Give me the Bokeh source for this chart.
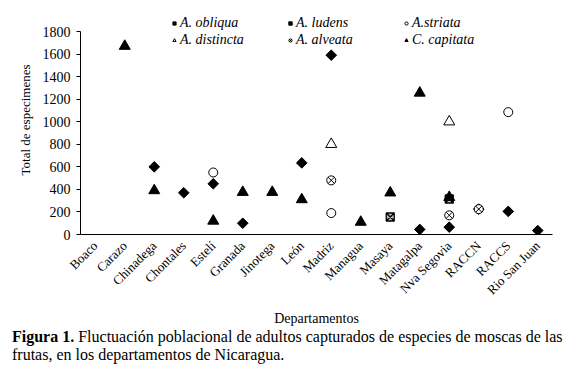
from math import pi
from bokeh.plotting import figure
from bokeh.models import FactorRange, Range1d, Legend, LegendItem, FixedTicker, Div
from bokeh.layouts import column
from bokeh.embed import file_html
from bokeh.resources import INLINE

departamentos = ["Boaco", "Carazo", "Chinadega", "Chontales", "Estelí", "Granada",
                 "Jinotega", "León", "Madriz", "Managua", "Masaya", "Matagalpa",
                 "Nva Segovia", "RACCN", "RACCS", "Rio San Juan"]

obliqua_dept = ["Chinadega", "Chontales", "Estelí", "Granada", "León", "Madriz",
                "Matagalpa", "Nva Segovia", "RACCN", "RACCS", "Rio San Juan"]
obliqua_vals = [600, 370, 450, 100, 635, 1590, 45, 65, 225, 205, 35]

ludens_dept = ["Masaya", "Nva Segovia"]
ludens_vals = [155, 315]

striata_dept = ["Estelí", "Madriz", "RACCS"]
striata_vals = [550, 190, 1085]

distincta_dept = ["Madriz", "Nva Segovia"]
distincta_vals = [800, 1000]

alveata_dept = ["Madriz", "Nva Segovia", "RACCN"]
alveata_vals = [480, 170, 225]

capitata_dept = ["Carazo", "Chinadega", "Estelí", "Granada", "Jinotega", "León",
                 "Managua", "Masaya", "Matagalpa", "Nva Segovia"]
capitata_vals = [1670, 390, 120, 375, 375, 310, 110, 370, 1255, 330]

y_ticks = [0, 200, 400, 600, 800, 1000, 1200, 1400, 1600, 1800]
y_max = 1800

SERIF = "Liberation Serif"

# frame: 203 px for 0..1800, extended 26 px above 1800 for the legend
y_top = y_max * 229 / 203

p = figure(width=563, height=328, output_backend="svg", toolbar_location=None,
           x_range=FactorRange(*departamentos), y_range=Range1d(0, y_top),
           min_border_left=80, min_border_right=11, min_border_top=5,
           min_border_bottom=94)
p.outline_line_color = None
p.xgrid.visible = False
p.ygrid.visible = False

r_obl = p.scatter(obliqua_dept, obliqua_vals, marker="square", angle=pi / 4, size=7.5,
                  fill_color="black", line_color="black")
r_lud = p.scatter(ludens_dept, ludens_vals, marker="square_x", size=8,
                  fill_color="#bbbbbb", line_color="black", line_width=1.3)
r_str = p.scatter(striata_dept, striata_vals, marker="circle", size=9,
                  fill_color="white", line_color="black", line_width=1)
r_dis = p.scatter(distincta_dept, distincta_vals, marker="triangle", size=11,
                  fill_color="white", line_color="black", line_width=1)
r_alv = p.scatter(alveata_dept, alveata_vals, marker="circle_x", size=9,
                  fill_color="white", line_color="black", line_width=1)
r_cap = p.scatter(capitata_dept, capitata_vals, marker="triangle", size=11,
                  fill_color="black", line_color="black")

# axes
p.yaxis.ticker = FixedTicker(ticks=y_ticks)
p.yaxis.bounds = (0, y_max)
for ax in (p.xaxis[0], p.yaxis[0]):
    ax.axis_line_color = "black"
    ax.axis_line_width = 1
    ax.major_label_text_font = SERIF
    ax.major_label_text_color = "black"
    ax.axis_label_text_font = SERIF
    ax.axis_label_text_font_style = "normal"
    ax.axis_label_text_color = "black"
    ax.minor_tick_line_color = None

p.yaxis.major_tick_out = 4
p.yaxis.major_tick_in = 0
p.yaxis.major_tick_line_color = "black"
p.yaxis.major_label_standoff = 6
p.yaxis.major_label_text_font_size = "14px"
p.yaxis.axis_label = "Total de especimenes"
p.yaxis.axis_label_text_font_size = "13px"
p.yaxis.axis_label_standoff = 7

p.xaxis.major_tick_line_color = None
p.xaxis.major_tick_out = 0
p.xaxis.major_tick_in = 0
p.xaxis.major_label_orientation = pi / 4
p.xaxis.major_label_standoff = 9
p.xaxis.major_label_text_font_size = "13px"
p.xaxis.axis_label = "Departamentos"
p.xaxis.axis_label_text_font_size = "14px"
p.xaxis.axis_label_standoff = 5

# legends (two rows of three)
def make_legend(items, vy):
    lg = Legend(items=items, orientation="horizontal", location=(90, vy),
                label_text_font=SERIF, label_text_font_style="italic",
                label_text_font_size="14px", label_text_color="black",
                glyph_width=8, glyph_height=12, label_standoff=2, label_width=100,
                label_height=12, spacing=6, padding=0, margin=0,
                border_line_color=None, background_fill_alpha=0)
    p.add_layout(lg, "center")

make_legend([LegendItem(label="A. obliqua", renderers=[r_obl]),
             LegendItem(label="A. ludens", renderers=[r_lud]),
             LegendItem(label="A.striata", renderers=[r_str])], 203)
make_legend([LegendItem(label="A. distincta", renderers=[r_dis]),
             LegendItem(label="A. alveata", renderers=[r_alv]),
             LegendItem(label="C. capitata", renderers=[r_cap])], 186)

# caption
caption = Div(
    text="<b>Figura 1.</b> Fluctuación poblacional de adultos capturados de especies de moscas de las"
         "<br>frutas, en los departamentos de Nicaragua.",
    width=563, height=41, margin=(0, 0, 0, 0),
    styles={"font-family": "Liberation Serif", "font-size": "16px",
            "line-height": "18px", "padding-left": "12px", "color": "black",
            "white-space": "nowrap"})

layout = column(p, caption, spacing=0)
open("out.html", "w").write(file_html(layout, INLINE))
